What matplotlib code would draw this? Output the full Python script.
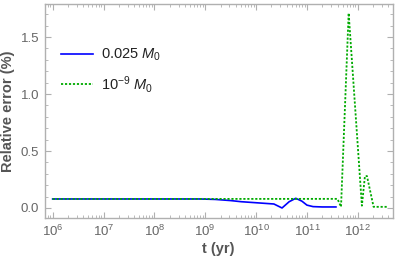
import numpy as np
import matplotlib
matplotlib.use('Agg')
import matplotlib.pyplot as plt
from matplotlib.ticker import FixedLocator, MultipleLocator, NullFormatter

# values (log10 of t in yr, relative error in %)
blue_logt = [6.0, 8.9, 9.2, 9.5, 9.71, 10.0, 10.35, 10.51, 10.65, 10.78, 10.9, 11.0, 11.12, 11.3, 11.57]
blue_err = [0.079, 0.079, 0.075, 0.065, 0.055, 0.046, 0.035, 0.0, 0.055, 0.085, 0.06, 0.025, 0.012, 0.009, 0.009]

green_logt = [6.0, 11.60, 11.67, 11.82, 12.08, 12.14, 12.18, 12.31, 12.59]
green_err = [0.079, 0.08, 0.01, 1.71, 0.02, 0.28, 0.28, 0.01, 0.01]

decades = [6, 7, 8, 9, 10, 11, 12]

blue_label = r'0.025 $M_0$'
green_label = r'$10^{-9}$ $M_0$'

frame_color = '#b0b0b0'
text_color = '#666666'
label_color = '#555555'


def main():
    plt.rcParams['font.family'] = ['Liberation Sans', 'DejaVu Sans']
    plt.rcParams['mathtext.fontset'] = 'custom'
    plt.rcParams['mathtext.rm'] = 'Liberation Sans'
    plt.rcParams['mathtext.it'] = 'Liberation Sans:italic'

    fig = plt.figure(figsize=(3.95, 2.58), dpi=100)
    ax = fig.add_axes([0.1127, 0.155, 0.882, 0.8295])

    ax.plot(10 ** np.array(blue_logt), blue_err, color='#0000ff', lw=1.2, label=blue_label)
    ax.plot(10 ** np.array(green_logt), green_err, color='#00aa00', lw=1.3, ls=(0, (1.2, 1.0)), label=green_label)

    ax.set_xscale('log')
    ax.set_xlim(10 ** 5.84, 10 ** 12.69)
    ax.set_ylim(-0.088, 1.79)

    major = [10.0 ** d for d in decades]
    minor = [m * 10.0 ** d for d in [5] + decades for m in range(2, 10)]
    ax.xaxis.set_major_locator(FixedLocator(major))
    ax.xaxis.set_minor_locator(FixedLocator(minor))
    ax.set_xticklabels([r'$10^{%d}$' % d for d in decades])
    ax.xaxis.set_minor_formatter(NullFormatter())
    ax.yaxis.set_major_locator(MultipleLocator(0.5))
    ax.yaxis.set_minor_locator(MultipleLocator(0.1))
    ax.yaxis.set_major_formatter(plt.FuncFormatter(lambda v, p: '{:.1f}'.format(v)))

    for s in ax.spines.values():
        s.set_color(frame_color)
        s.set_linewidth(1.0)
    ax.tick_params(which='both', direction='in', top=True, right=True, color=frame_color,
                   labelcolor=text_color, labelsize=9.5)
    ax.tick_params(which='major', length=4, width=0.8, pad=4)
    ax.tick_params(which='minor', length=2, width=0.6)

    ax.set_xlabel('t (yr)', fontsize=10.5, fontweight='bold', color=label_color, labelpad=2)
    ax.set_ylabel('Relative error (%)', fontsize=10.5, fontweight='bold', color=label_color, labelpad=4)

    ax.legend(loc='upper left', bbox_to_anchor=(0.01, 0.86), frameon=False, fontsize=10.5,
              handlelength=2.2, handletextpad=0.5, labelspacing=0.7, labelcolor='#222222')

    fig.savefig('out.png', dpi=100)


if __name__ == '__main__':
    main()
